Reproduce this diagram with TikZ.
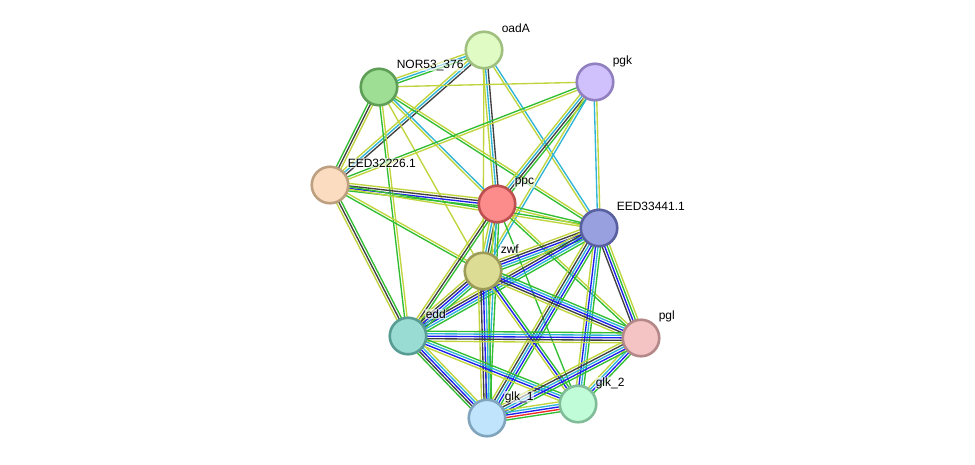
\documentclass[tikz,border=0pt]{standalone}
\usepackage{fontspec}
\setmainfont{Liberation Sans}
\usetikzlibrary{calc,backgrounds}
\pgfdeclarelayer{bgzero}
\pgfsetlayers{bgzero,background,main}
\definecolor{yg}{RGB}{192,212,60}
\definecolor{cy}{RGB}{45,180,215}
\definecolor{dk}{RGB}{65,65,65}
\definecolor{gr}{RGB}{50,190,50}
\definecolor{bl}{RGB}{30,30,240}
\definecolor{rd}{RGB}{240,40,40}
\tikzset{
  edgeline/.style={line width=1.35pt},
  pnode/.style={circle, minimum size=36.5pt, inner sep=0pt, line width=2.6pt},
  lbl/.style={anchor=west, inner sep=0.6pt, font=\fontsize{12}{14}\selectfont, fill=white, fill opacity=0.6, text opacity=1}
}
\newcommand\sedge[3]{%
  \gdef\ncol{0}%
  \foreach \c in {#3}{\pgfmathtruncatemacro\tmp{\ncol+1}\xdef\ncol{\tmp}}%
  \foreach \c [count=\i] in {#3}{%
    \pgfmathsetmacro\off{(\i-(\ncol+1)/2)*2.5}%
    \draw[draw=\c, edgeline] ($(#1)!\off pt!90:(#2)$) -- ($(#2)!\off pt!-90:(#1)$);
  }%
}
\begin{document}
\begin{tikzpicture}[x=1pt,y=-1pt]
\begin{pgfonlayer}{bgzero}
\fill[white] (0,0) rectangle (975,464);
\end{pgfonlayer}
\useasboundingbox (0,0) rectangle (975,464);
% nodes
\node[pnode, fill={rgb,255:red,224;green,252;blue,196}, draw={rgb,255:red,160;green,192;blue,128}] (O) at (484,50) {};
\node[pnode, fill={rgb,255:red,158;green,222;blue,148}, draw={rgb,255:red,94;green,158;blue,86}] (N) at (379,87) {};
\node[pnode, fill={rgb,255:red,208;green,192;blue,252}, draw={rgb,255:red,144;green,128;blue,192}] (K) at (595,82) {};
\node[pnode, fill={rgb,255:red,252;green,220;blue,192}, draw={rgb,255:red,188;green,160;blue,128}] (E1) at (330,185) {};
\node[pnode, fill={rgb,255:red,252;green,140;blue,140}, draw={rgb,255:red,188;green,80;blue,80}] (P) at (497,204) {};
\node[pnode, fill={rgb,255:red,152;green,160;blue,224}, draw={rgb,255:red,88;green,96;blue,160}] (E3) at (599,228) {};
\node[pnode, fill={rgb,255:red,220;green,220;blue,148}, draw={rgb,255:red,156;green,156;blue,88}] (Z) at (483,271) {};
\node[pnode, fill={rgb,255:red,152;green,220;blue,212}, draw={rgb,255:red,88;green,156;blue,148}] (D) at (408,336) {};
\node[pnode, fill={rgb,255:red,244;green,196;blue,196}, draw={rgb,255:red,180;green,136;blue,136}] (L) at (641,338) {};
\node[pnode, fill={rgb,255:red,192;green,252;blue,216}, draw={rgb,255:red,128;green,188;blue,152}] (G2) at (578,404) {};
\node[pnode, fill={rgb,255:red,192;green,228;blue,252}, draw={rgb,255:red,128;green,164;blue,188}] (G1) at (487,418) {};
% edges
\begin{pgfonlayer}{background}
\sedge{O}{N}{yg,cy,gr}
\sedge{O}{E1}{yg,cy,dk}
\sedge{O}{P}{yg,cy,dk}
\sedge{O}{Z}{yg}
\sedge{O}{E3}{yg,cy}
\sedge{N}{K}{yg}
\sedge{N}{E1}{gr,dk,yg}
\sedge{N}{P}{yg,cy}
\sedge{N}{E3}{gr,yg}
\sedge{N}{Z}{yg}
\sedge{N}{D}{gr,yg}
\sedge{K}{P}{yg,cy,dk,gr}
\sedge{K}{Z}{yg,cy}
\sedge{K}{E3}{cy,yg}
\sedge{K}{E1}{gr,yg}
\sedge{E1}{P}{gr,bl,dk,yg}
\sedge{E1}{Z}{gr,yg}
\sedge{E1}{D}{yg,dk,gr}
\sedge{E1}{E3}{yg,gr}
\sedge{P}{E3}{yg,gr}
\sedge{P}{Z}{yg,cy,dk,gr}
\sedge{P}{D}{yg,dk,gr}
\sedge{P}{L}{gr,yg}
\sedge{P}{G2}{gr}
\sedge{P}{G1}{yg,cy,gr}
\sedge{E3}{Z}{yg,dk,bl,cy,gr}
\sedge{E3}{D}{yg,dk,bl,cy,gr}
\sedge{E3}{L}{dk,bl,gr,yg}
\sedge{E3}{G2}{yg,bl,cy,gr}
\sedge{E3}{G1}{yg,dk,cy,bl,gr}
\sedge{Z}{D}{yg,dk,bl,cy,gr}
\sedge{Z}{L}{yg,dk,bl,cy,gr}
\sedge{Z}{G1}{yg,dk,bl,cy,gr}
\sedge{Z}{G2}{yg,bl,gr}
\sedge{D}{L}{yg,dk,bl,cy,gr}
\sedge{D}{G1}{gr,dk,bl,cy,yg}
\sedge{D}{G2}{yg,bl,cy,gr}
\sedge{L}{G2}{yg,cy,bl,gr}
\sedge{L}{G1}{yg,dk,cy,bl,gr}
\sedge{G1}{G2}{gr,rd,bl,cy,yg}
\end{pgfonlayer}
% labels
\node[lbl] (Ol) at (501,28) {oadA};
\node[lbl] (Nl) at (396,65) {NOR53\_376};
\node[lbl] (Kl) at (612,61) {pgk};
\node[lbl] (E1l) at (347,163) {EED32226.1};
\node[lbl] (Pl) at (514,183) {ppc};
\node[lbl] (E3l) at (616,206) {EED33441.1};
\node[lbl] (Zl) at (500,249) {zwf};
\node[lbl] (Dl) at (425,314) {edd};
\node[lbl] (Ll) at (658,316) {pgl};
\node[lbl] (G2l) at (595,383) {glk\_2};
\node[lbl] (G1l) at (504,397) {glk\_1};
\end{tikzpicture}
\end{document}
